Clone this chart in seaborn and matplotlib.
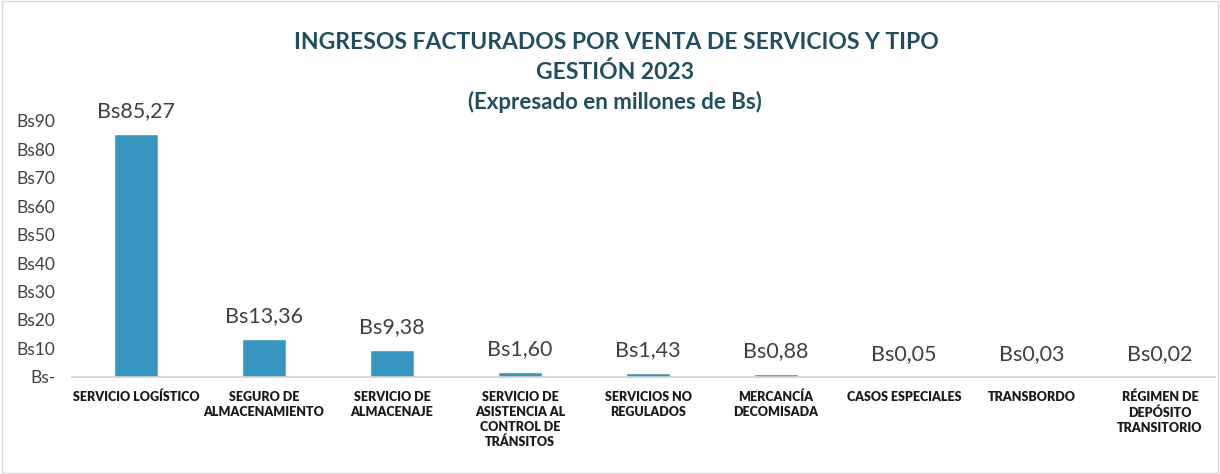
import matplotlib
matplotlib.use('Agg')
import matplotlib.pyplot as plt
import seaborn as sns
import pandas as pd

categorias = ['SERVICIO LOGÍSTICO', 'SEGURO DE\nALMACENAMIENTO', 'SERVICIO DE\nALMACENAJE',
              'SERVICIO DE\nASISTENCIA AL\nCONTROL DE\nTRÁNSITOS', 'SERVICIOS NO\nREGULADOS',
              'MERCANCÍA\nDECOMISADA', 'CASOS ESPECIALES', 'TRANSBORDO',
              'RÉGIMEN DE\nDEPÓSITO\nTRANSITORIO']
valores = [85.27, 13.36, 9.38, 1.60, 1.43, 0.88, 0.05, 0.03, 0.02]
yticks = [0, 10, 20, 30, 40, 50, 60, 70, 80, 90]

sns.set_style('white')
plt.rcParams['font.family'] = ['Lato', 'DejaVu Sans']

df = pd.DataFrame({'cat': categorias, 'val': valores})

fig = plt.figure(figsize=(12.2, 4.74), dpi=100)
ax = fig.add_axes([0.059, 0.205, 0.937, 0.54])
sns.barplot(data=df, x='cat', y='val', color='#3796BF', saturation=1, width=0.35, ax=ax)

for i, v in enumerate(valores):
    ax.text(i, v + 4.6, 'Bs' + f'{v:.2f}'.replace('.', ','), ha='center', va='bottom',
            fontsize=15.5, color='#404040', clip_on=False)

ax.set_xlim(-0.5, 8.43)
ax.set_ylim(0, 90)
ax.set_yticks(yticks)
ax.set_yticklabels(['Bs-'] + ['Bs%d' % t for t in yticks[1:]], fontsize=12.5, color='#404040')
ax.tick_params(axis='both', length=0)
ax.tick_params(axis='y', pad=12)
ax.set_xticks(range(len(categorias)))
ax.set_xticklabels(categorias, fontsize=9, fontweight='heavy', color='#1a1a1a', va='top',
                   linespacing=1.3)
ax.tick_params(axis='x', pad=10)
ax.set_xlabel('')
ax.set_ylabel('')
for s in ['top', 'right', 'left']:
    ax.spines[s].set_visible(False)
ax.spines['bottom'].set_color('#d0d0d0')
ax.spines['bottom'].set_linewidth(1.2)

tc = '#1F4E5F'
fig.text(0.505, 0.91, 'INGRESOS FACTURADOS POR VENTA DE SERVICIOS Y TIPO', ha='center', va='center',
         fontsize=16.5, fontweight='bold', color=tc)
fig.text(0.504, 0.848, 'GESTIÓN 2023', ha='center', va='center', fontsize=16.5, fontweight='bold', color=tc)
fig.text(0.504, 0.785, '(Expresado en millones de Bs)', ha='center', va='center', fontsize=16,
         fontweight='bold', color=tc)

fig.patches.append(plt.Rectangle((0.002, 0.003), 0.996, 0.994, transform=fig.transFigure,
                                 fill=False, edgecolor='#d9d9d9', linewidth=1))

fig.savefig('out.png', dpi=100)
